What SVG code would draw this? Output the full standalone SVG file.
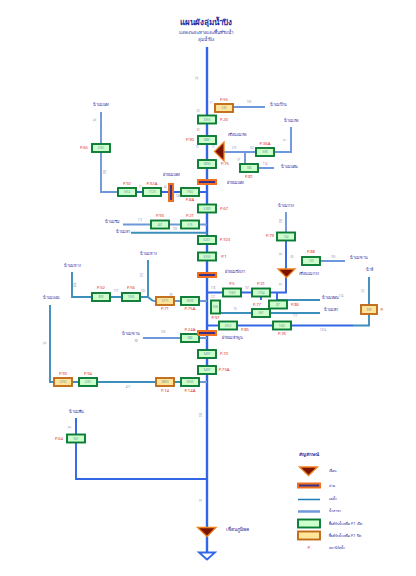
<svg xmlns="http://www.w3.org/2000/svg" width="416" height="576" viewBox="0 0 416 576">
<style>
text{font-family:"Noto Sans","DejaVu Sans",sans-serif}
.main{stroke:#3366e6;stroke-width:2.4;fill:none}
.riv{stroke:#3d8fbb;stroke-width:1.900;fill:none}
.trib{stroke:#6f97dc;stroke-width:1.900;fill:none}
.g rect{fill:#ccffcc;stroke:#0a7a35;stroke-width:1.900}
.o rect{fill:#ffe59a;stroke:#c06a1a;stroke-width:1.900}
.v{font-size:3px;fill:#6f8f9f;text-anchor:middle}
.p{font-size:4.300px;fill:#e0302a;text-anchor:middle}
.n{font-size:3.800px;fill:#2a2a9c;text-anchor:middle}
.d{font-size:2.600px;fill:#8a8ab8;text-anchor:middle}
.weir{fill:#3a3090;stroke:#f07020;stroke-width:2}
.dam{fill:#7a1400;stroke:#f08020;stroke-width:1.300}
</style>
<g id="title">
<text x="206" y="24.500" style="font-size:8px;fill:#2a2a9c;font-weight:bold;text-anchor:middle">แผนผังลุ่มน้ำปิง</text>
<text x="206" y="33.500" style="font-size:4.400px;fill:#2a2a9c;text-anchor:middle">แสดงระยะทางและพื้นที่รับน้ำ</text>
<text x="206" y="40.500" style="font-size:4.400px;fill:#2a2a9c;text-anchor:middle">ลุ่มน้ำปิง</text>
</g>
<g id="connectors">
<path class="main" d="M207 47V560"/>
<path class="trib" d="M214 107H265M101 112V192H118M123 224.500H207M143 338H207M224 152H291V127M245 152V168M258 168H274M286 212V236M302 261H345M153 301H207M199 382H207"/>
<path class="riv" d="M131 232.700H207M72 272V297H148M148 260V297L153 301M50 305V382H54M72 382H180M220 313H320M277 300H320M353 325.500H369V277"/>
<path class="main" d="M136 192H207M207 292.500H286V236M286 236V261M207 325.500H353M261 292V300M277 292V300" style="stroke-width:1.900"/>
<path class="trib" d="M76 418V479H207" style="stroke:#3366e6"/>
</g>
<g id="arrow"><path d="M199 552.500H215L207 559.500Z" fill="#fff" stroke="#3366e6" stroke-width="1.800"/></g>
<g id="P20" class="g"><rect x="198" y="115.500" width="18" height="8"/><text class="v" x="207" y="120.500">3355</text><text class="p" x="224" y="120.500">P.20</text></g>
<g id="P55" class="o"><rect x="215" y="104" width="18" height="8"/><text class="v" x="224" y="109">225</text><text class="p" x="224" y="100.500">P.55</text></g>
<g id="P90" class="g"><rect x="198" y="136" width="18" height="8"/><text class="v" x="207" y="141">3881</text><text class="p" x="190" y="140.500">P.90</text></g>
<g id="P75" class="g"><rect x="198" y="160" width="18" height="8"/><text class="v" x="207" y="165">3890</text><text class="p" x="225" y="164.500">P.75</text></g>
<g id="damNgat"><path class="dam" d="M214.500 151.500L224 142V161Z"/><text class="n" x="237" y="136">เขื่อนแม่งัด</text></g>
<g id="P36A" class="g"><rect x="256" y="148" width="18" height="8"/><text class="v" x="265" y="153">339</text><text class="p" x="265" y="144.500">P.36A</text></g>
<g id="P81" class="g"><rect x="240" y="164" width="18" height="8"/><text class="v" x="249" y="169">180</text><text class="p" x="249" y="177.500">P.81</text></g>
<g id="weir1"><rect class="weir" x="198" y="180" width="18" height="4"/><text class="n" x="235" y="184">ฝายแม่แตง</text></g>
<g id="P65" class="g"><rect x="92" y="144" width="18" height="8"/><text class="v" x="101" y="149">2261</text><text class="p" x="84" y="149">P.65</text></g>
<g id="P92" class="g"><rect x="118" y="188" width="18" height="8"/><text class="v" x="127" y="193">1652</text><text class="p" x="127" y="184.500">P.92</text></g>
<g id="P92A" class="g"><rect x="143" y="188" width="18" height="8"/><text class="v" x="152" y="193">1723</text><text class="p" x="152" y="184.500">P.92A</text></g>
<g id="weir2"><rect class="weir" x="169" y="184" width="4" height="17"/><text class="n" x="171" y="176">ฝายแม่แตง</text></g>
<g id="P8A" class="g"><rect x="181" y="188" width="18" height="8"/><text class="v" x="190" y="193">1902</text><text class="p" x="190" y="201">P.8A</text></g>
<g id="P67" class="g"><rect x="198" y="204.500" width="18" height="8"/><text class="v" x="207" y="209.500">5289</text><text class="p" x="224" y="209.500">P.67</text></g>
<g id="P93" class="g"><rect x="151" y="220.500" width="18" height="8"/><text class="v" x="160" y="225.500">461</text><text class="p" x="160" y="217">P.93</text></g>
<g id="P21" class="g"><rect x="181" y="220.500" width="18" height="8"/><text class="v" x="190" y="225.500">515</text><text class="p" x="190" y="217">P.21</text></g>
<g id="P103" class="g"><rect x="198" y="236" width="18" height="8"/><text class="v" x="207" y="241">6261</text><text class="p" x="225" y="241">P.103</text></g>
<g id="P1" class="g"><rect x="198" y="252.500" width="18" height="8"/><text class="v" x="207" y="257.500">6333</text><text class="p" x="224" y="257.500">P.1</text></g>
<g id="weir3"><rect class="weir" x="198" y="273" width="18" height="4"/><text class="n" x="235" y="273">ฝายแม่ปิงเก่า</text></g>
<g id="P79" class="g"><rect x="277" y="232.500" width="18" height="8"/><text class="v" x="286" y="237.500">154</text><text class="p" x="270" y="237">P.79</text></g>
<g id="P88" class="g"><rect x="302" y="257" width="18" height="8"/><text class="v" x="311" y="262">129</text><text class="p" x="311" y="253">P.88</text></g>
<g id="damKuang"><path class="dam" d="M278 269H295L286.500 277.500Z"/><text class="n" x="309" y="275">เขื่อนแม่กวง</text></g>
<g id="P5" class="g"><rect x="223" y="288.500" width="18" height="8"/><text class="v" x="232" y="293.500">1569</text><text class="p" x="232" y="285">P.5</text></g>
<g id="P31" class="g"><rect x="252" y="288.500" width="18" height="8"/><text class="v" x="261" y="293.500">1704</text><text class="p" x="261" y="285">P.31</text></g>
<g id="P75A" class="g"><rect x="181" y="297" width="18" height="8"/><text class="v" x="190" y="302">3636</text><text class="p" x="190" y="310">P.75A</text></g>
<g id="P71" class="o"><rect x="156" y="297" width="18" height="8"/><text class="v" x="165" y="302">3771</text><text class="p" x="165" y="310">P.71</text></g>
<g id="P56" class="g"><rect x="122" y="293" width="18" height="8"/><text class="v" x="131" y="298">1305</text><text class="p" x="131" y="289">P.56</text></g>
<g id="PS2" class="g"><rect x="92" y="293" width="18" height="8"/><text class="v" x="101" y="298">809</text><text class="p" x="101" y="289">P.S2</text></g>
<g id="P97" class="g"><rect x="211" y="300.500" width="9" height="13"/><text class="v" x="215.500" y="308">606</text><text class="p" x="215.500" y="318.500">P.97</text></g>
<g id="P77" class="g"><rect x="252" y="309" width="18" height="8"/><text class="v" x="261" y="314">567</text><text class="p" x="257" y="306">P.77</text></g>
<g id="P86" class="g"><rect x="269" y="300.500" width="18" height="8"/><text class="v" x="278" y="305.500">87</text><text class="p" x="295" y="306">P.86</text></g>
<g id="P85" class="g"><rect x="219" y="321.500" width="18" height="8"/><text class="v" x="228" y="326.500">2552</text><text class="p" x="245" y="331">P.85</text></g>
<g id="P76" class="g"><rect x="273" y="321.500" width="18" height="8"/><text class="v" x="282" y="326.500">1341</text><text class="p" x="282" y="335">P.76</text></g>
<g id="PLi" class="o"><rect x="361" y="305" width="16" height="9"/><text class="v" x="369" y="310.500">939</text><text class="p" x="382" y="310.500">P.</text></g>
<g id="P24A" class="g"><rect x="181" y="334" width="18" height="8"/><text class="v" x="190" y="339">680</text><text class="p" x="190" y="330.500">P.24A</text></g>
<g id="weir4"><rect class="weir" x="198" y="331" width="18" height="4"/><text class="n" x="232" y="339">ฝายแม่ลำพูน</text></g>
<g id="P73" class="g"><rect x="198" y="350" width="18" height="8"/><text class="v" x="207" y="355">3497</text><text class="p" x="224" y="355">P.73</text></g>
<g id="P73A" class="g"><rect x="198" y="366" width="18" height="8"/><text class="v" x="207" y="371">3497</text><text class="p" x="224" y="371">P.73A</text></g>
<g id="P14A" class="g"><rect x="181" y="378" width="18" height="8"/><text class="v" x="190" y="383">3505</text><text class="p" x="190" y="391.500">P.14A</text></g>
<g id="P14" class="o"><rect x="156" y="378" width="18" height="8"/><text class="v" x="165" y="383">3853</text><text class="p" x="165" y="391.500">P.14</text></g>
<g id="P94" class="g"><rect x="79" y="378" width="18" height="8"/><text class="v" x="88" y="383">2261</text><text class="p" x="88" y="375">P.94</text></g>
<g id="P93b" class="o"><rect x="54" y="378" width="18" height="8"/><text class="v" x="63" y="383">2292</text><text class="p" x="63" y="375">P.93</text></g>
<g id="P64" class="g"><rect x="67" y="434.500" width="18" height="8"/><text class="v" x="76" y="439.500">561</text><text class="p" x="59" y="439.500">P.64</text></g>
<g id="damBhumibol"><path class="dam" d="M197.500 527.500H216L207 536.500Z"/><text x="237" y="531" style="font-size:5px;fill:#2a2a9c;text-anchor:middle">เขื่อนภูมิพล</text></g>
<g id="labels">
<text class="n" x="101" y="106">น้ำแม่แตง</text>
<text class="n" x="278" y="106">น้ำแม่ป้าน</text>
<text class="n" x="291" y="122">น้ำแม่งัด</text>
<text class="n" x="289" y="168">น้ำแม่แตน</text>
<text class="n" x="112" y="222.500">น้ำแม่ริม</text>
<text class="n" x="123" y="232.500">น้ำแม่สา</text>
<text class="n" x="286" y="207">น้ำแม่กวง</text>
<text class="n" x="359" y="259">น้ำแม่ขาน</text>
<text class="n" x="369" y="271">น้ำลี้</text>
<text class="n" x="72" y="267">น้ำแม่ทาง</text>
<text class="n" x="148" y="255">น้ำแม่ทาง</text>
<text class="n" x="51" y="299">น้ำแม่แจ่ม</text>
<text class="n" x="131" y="334.500">น้ำแม่ขาน</text>
<text class="n" x="330" y="299">น้ำแม่ตอน</text>
<text class="n" x="331" y="311">น้ำแม่ตา</text>
<text class="n" x="76" y="413">น้ำแม่ตื่น</text>
</g>
<g id="distances">
<text class="d" x="198" y="78" transform="rotate(-90 198 78)">22</text>
<text class="d" x="249" y="103">103</text><text class="d" x="211" y="104">11</text>
<text class="d" x="198" y="112">20</text><text class="d" x="198" y="131">30</text>
<text class="d" x="197" y="148">13</text>
<text class="d" x="213" y="148">13</text>
<text class="d" x="234" y="149">219</text><text class="d" x="252" y="149">167</text>
<text class="d" x="240" y="159" transform="rotate(-90 240 159)">56</text>
<text class="d" x="265" y="165">114</text>
<text class="d" x="286" y="140" transform="rotate(-90 286 140)">11</text>
<text class="d" x="106" y="172" transform="rotate(-90 106 172)">183</text>
<text class="d" x="96" y="120" transform="rotate(-90 96 120)">32</text>
<text class="d" x="140" y="188">17</text>
<text class="d" x="165" y="188">24</text>
<text class="d" x="178" y="197">143</text>
<text class="d" x="140" y="221">112</text>
<text class="d" x="175" y="230">103</text>
<text class="d" x="282" y="221" transform="rotate(-90 282 221)">103</text>
<text class="d" x="282" y="254" transform="rotate(-90 282 254)">35</text>
<text class="d" x="292" y="258">65</text>
<text class="d" x="333" y="258">103</text>
<text class="d" x="282" y="284" transform="rotate(-90 282 284)">31</text>
<text class="d" x="341" y="297">114</text>
<text class="d" x="295" y="317">117</text>
<text class="d" x="323" y="331">1014</text>
<text class="d" x="364" y="291" transform="rotate(-90 364 291)">64</text>
<text class="d" x="235" y="310">16</text>
<text class="d" x="213" y="289">118</text><text class="d" x="213" y="298">121</text>
<text class="d" x="247" y="289">167</text>
<text class="d" x="136" y="342">98</text>
<text class="d" x="163" y="333">103</text>
<text class="d" x="46" y="343" transform="rotate(-90 46 343)">32</text>
<text class="d" x="128" y="388">417</text>
<text class="d" x="171" y="296">99</text>
<text class="d" x="143" y="292">102</text>
<text class="d" x="116" y="292">177</text>
<text class="d" x="76" y="285" transform="rotate(-90 76 285)">204</text>
<text class="d" x="143" y="275" transform="rotate(-90 143 275)">157</text>
<text class="d" x="202" y="415" transform="rotate(-90 202 415)">105</text>
<text class="d" x="202" y="500" transform="rotate(-90 202 500)">51</text>
<text class="d" x="71" y="427" transform="rotate(-90 71 427)">31</text>
</g>
<g id="legend">
<text x="309" y="455.500" style="font-size:4.500px;fill:#2a2a9c;font-weight:bold;text-anchor:middle">สัญลักษณ์</text>
<path class="dam" d="M299.500 467H317.500L308.500 475.500Z"/>
<rect class="weir" x="298" y="483.500" width="22" height="4"/>
<path d="M298 499.500H320" stroke="#1a7fb8" stroke-width="1.500"/>
<path d="M298 511.500H320" stroke="#6f97dc" stroke-width="2.500"/>
<g class="g"><rect x="298" y="519.500" width="22" height="8"/></g>
<g class="o"><rect x="298" y="531.500" width="22" height="8"/></g>
<text class="p" x="309" y="549">P.</text>
<g style="font-size:3.600px;fill:#2a2a9c">
<text x="329" y="471.500">เขื่อน</text>
<text x="329" y="487">ฝาย</text>
<text x="329" y="500">แม่น้ำ</text>
<text x="329" y="512">น้ำสาขา</text>
<text x="329" y="525">พื้นที่รับน้ำเหนือ P.1 เปิด</text>
<text x="329" y="537">พื้นที่รับน้ำเหนือ P.1 ปิด</text>
<text x="329" y="549">สถานีวัดน้ำ</text>
</g>
</g>
</svg>
